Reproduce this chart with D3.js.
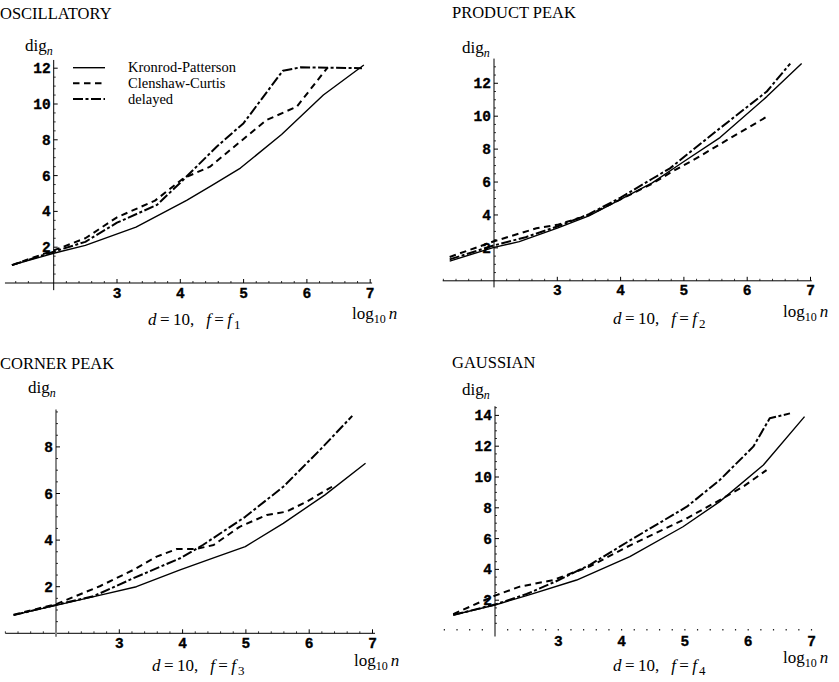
<!DOCTYPE html>
<html><head><meta charset="utf-8">
<script src="https://cdn.jsdelivr.net/npm/d3@7"></script>
<style>body{margin:0;background:#fff}svg{display:block}</style>
</head><body>
<svg id="c" width="839" height="682"></svg>
<script>
// ---------- data (log10 n, dig_n) ----------
const seriesNames = ["Kronrod-Patterson", "Clenshaw-Curtis", "delayed"];
const panelTitles = ["OSCILLATORY", "PRODUCT PEAK", "CORNER PEAK", "GAUSSIAN"];
const funcSubscripts = ["1", "2", "3", "4"];
const xTickLabels = [3, 4, 5, 6, 7];

const oscYTicks  = [2, 4, 6, 8, 10, 12];
const prodYTicks = [2, 4, 6, 8, 10, 12];
const cornYTicks = [2, 4, 6, 8];
const gaussYTicks = [2, 4, 6, 8, 10, 12, 14];

const oscKronrod  = [[1.34,1.0],[2.0,1.66],[2.5,2.1],[3.3,3.12],[4.1,4.62],[4.5,5.45],[4.95,6.42],[5.6,8.3],[6.26,10.5],[6.9,12.18]];
const oscClenshaw = [[1.34,1.0],[2.0,1.82],[2.5,2.5],[3.0,3.67],[3.6,4.6],[4.05,5.85],[4.47,6.5],[5.36,9.1],[5.84,9.85],[6.33,12.05]];
const oscDelayed  = [[1.34,1.0],[2.0,1.75],[2.5,2.3],[3.0,3.37],[3.63,4.36],[4.0,5.6],[4.57,7.6],[5.0,8.93],[5.62,11.86],[5.9,12.05],[6.87,12.0]];

const prodKronrod  = [[1.3,1.2],[2.0,2.03],[2.4,2.38],[3.0,3.2],[3.5,3.95],[4.0,4.95],[4.5,5.95],[5.0,7.25],[5.57,8.7],[6.31,11.19],[6.86,13.2]];
const prodClenshaw = [[1.3,1.45],[2.0,2.4],[2.67,3.19],[3.0,3.4],[3.5,4.0],[4.0,4.95],[4.5,5.9],[4.8,6.6],[5.2,7.45],[5.57,8.3],[6.31,9.97]];
const prodDelayed  = [[1.3,1.3],[2.0,2.15],[2.5,2.65],[3.0,3.3],[3.5,4.05],[4.0,5.05],[4.5,6.2],[4.78,6.83],[5.04,7.64],[5.57,9.27],[6.31,11.5],[6.68,13.2]];

const cornKronrod  = [[1.33,0.78],[2.0,1.2],[2.7,1.64],[3.27,2.0],[3.96,2.72],[4.5,3.25],[4.99,3.72],[5.59,4.72],[6.25,5.94],[6.89,7.3]];
const cornClenshaw = [[1.33,0.8],[2.0,1.25],[2.7,2.03],[3.22,2.72],[3.59,3.29],[3.91,3.62],[4.22,3.62],[4.49,3.79],[4.9,4.57],[5.33,5.08],[5.64,5.22],[5.96,5.65],[6.36,6.29]];
const cornDelayed  = [[1.33,0.78],[2.0,1.22],[2.6,1.6],[3.22,2.36],[3.96,3.22],[4.32,3.79],[4.99,5.0],[5.59,6.29],[6.17,7.87],[6.68,9.33]];

const gaussKronrod  = [[1.34,1.04],[2.0,1.69],[2.5,2.3],[3.29,3.31],[4.13,4.83],[4.97,6.77],[5.55,8.4],[6.24,10.78],[6.89,13.92]];
const gaussClenshaw = [[1.34,1.1],[2.0,2.3],[2.39,2.88],[2.92,3.31],[3.5,4.2],[4.08,5.45],[5.03,7.32],[5.55,8.5],[5.92,9.37],[6.29,10.45]];
const gaussDelayed  = [[1.34,1.04],[2.0,1.72],[2.5,2.4],[2.95,3.2],[3.5,4.3],[4.18,6.0],[5.03,8.07],[5.55,9.8],[6.08,11.97],[6.34,13.81],[6.66,14.13]];

// ---------- layout ----------
const panels = [
  {data:[oscKronrod,oscClenshaw,oscDelayed], yTicks:oscYTicks,
   x0:53.7, y0:283, ux:63.3, uy:17.9, xLo:1.23, xHi:7.03, yTop:12.46, yBot:-0.4,
   titleX:0, titleY:19, digX:25, digY:51, logX:352, logY:319, capX:148, capY:325,
   yAxisColor:"#000", yAxisW:1, xAxisLine:true, legend:true},
  {data:[prodKronrod,prodClenshaw,prodDelayed], yTicks:prodYTicks,
   x0:494, y0:280.8, ux:63.3, uy:16.46, xLo:1.19, xHi:7.02, yTop:13.5, yBot:-0.4,
   titleX:452, titleY:18, digX:462, digY:53, logX:783, logY:317, capX:613, capY:324,
   yAxisColor:"#000", yAxisW:1, xAxisLine:true, legend:false},
  {data:[cornKronrod,cornClenshaw,cornDelayed], yTicks:cornYTicks,
   x0:56, y0:633.3, ux:63.3, uy:23.3, xLo:1.2, xHi:7.04, yTop:9.6, yBot:-0.15,
   titleX:0, titleY:369, digX:28, digY:393, logX:354, logY:666, capX:152, capY:671,
   yAxisColor:"#888", yAxisW:2, xAxisLine:true, legend:false},
  {data:[gaussKronrod,gaussClenshaw,gaussDelayed], yTicks:gaussYTicks,
   x0:495, y0:631, ux:63.3, uy:15.4, xLo:1.2, xHi:7.02, yTop:14.6, yBot:-0.35,
   titleX:452, titleY:368, digX:462, digY:395, logX:783, logY:663, capX:613, capY:671,
   yAxisColor:"#555", yAxisW:1.5, xAxisLine:false, legend:false}
];

const dashes = [null, "6.5,4.5", "10,2.5,3,2.5"];
const widths = [1.4, 2, 2];
const serif = "'Liberation Serif','Times New Roman',serif";
const mono = "'Liberation Mono','Courier New',monospace";

const svg = d3.select("#c");

panels.forEach((p, i) => {
  const x = d3.scaleLinear().domain([2, 7]).range([p.x0, p.x0 + 5 * p.ux]);
  const y = d3.scaleLinear().domain([0, 10]).range([p.y0, p.y0 - 10 * p.uy]);
  const g = svg.append("g");

  // title
  g.append("text").attr("x", p.titleX).attr("y", p.titleY)
    .attr("font-family", serif).attr("font-size", 16.5).text(panelTitles[i]);

  // x axis
  const xMinor = d3.range(Math.ceil(p.xLo * 5) / 5, p.xHi, 0.2).map(v => Math.round(v * 10) / 10);
  if (p.xAxisLine) {
    g.append("line").attr("x1", x(p.xLo)).attr("x2", x(p.xHi))
      .attr("y1", y(0)).attr("y2", y(0)).attr("stroke", "#000").attr("stroke-width", 1);
    g.selectAll(null).data(xMinor.filter(v => Math.abs(v - Math.round(v)) > 0.01 && Math.abs(v - 2) > 0.01))
      .enter().append("line")
      .attr("x1", d => x(d)).attr("x2", d => x(d))
      .attr("y1", y(0)).attr("y2", y(0) - 2).attr("stroke", "#000").attr("stroke-width", 0.8);
    g.selectAll(null).data(xTickLabels).enter().append("line")
      .attr("x1", d => x(d)).attr("x2", d => x(d))
      .attr("y1", y(0)).attr("y2", y(0) - 4).attr("stroke", "#000").attr("stroke-width", 1);
  } else {
    g.selectAll(null).data(xMinor.filter(v => Math.abs(v - 2) > 0.01)).enter().append("rect")
      .attr("x", d => x(d) - 0.6).attr("y", y(0) - 2).attr("width", 1.2).attr("height", 1.5)
      .attr("fill", "#222");
  }
  g.selectAll(null).data(xTickLabels).enter().append("text")
    .attr("x", d => x(d)).attr("y", y(0) + 14.5).attr("text-anchor", "middle")
    .attr("font-family", mono).attr("font-weight", "bold").attr("font-size", 14.5)
    .attr("stroke", "#000").attr("stroke-width", 0.35)
    .text(d => d);

  // y axis
  g.append("line").attr("x1", x(2)).attr("x2", x(2))
    .attr("y1", y(p.yBot)).attr("y2", y(p.yTop))
    .attr("stroke", p.yAxisColor).attr("stroke-width", p.yAxisW);
  const yMinor = d3.range(0.5, p.yTop, 0.5).filter(v => v % 2 !== 0);
  g.selectAll(null).data(yMinor).enter().append("line")
    .attr("x1", x(2)).attr("x2", x(2) + 2).attr("y1", d => y(d)).attr("y2", d => y(d))
    .attr("stroke", "#000").attr("stroke-width", 0.8);
  g.selectAll(null).data(p.yTicks).enter().append("line")
    .attr("x1", x(2)).attr("x2", x(2) + 4).attr("y1", d => y(d)).attr("y2", d => y(d))
    .attr("stroke", "#000").attr("stroke-width", 1);
  g.selectAll(null).data(p.yTicks).enter().append("text")
    .attr("x", x(2) - 3).attr("y", d => y(d)).attr("dy", "0.35em").attr("text-anchor", "end")
    .attr("font-family", mono).attr("font-weight", "bold").attr("font-size", 14.5)
    .attr("stroke", "#000").attr("stroke-width", 0.35)
    .text(d => d);

  // dig_n label
  const dig = g.append("text").attr("x", p.digX).attr("y", p.digY)
    .attr("font-family", serif).attr("font-size", 17);
  dig.append("tspan").text("dig");
  dig.append("tspan").attr("font-style", "italic").attr("font-size", 12).attr("dy", 4).text("n");

  // log10 n label
  const lg = g.append("text").attr("x", p.logX).attr("y", p.logY)
    .attr("font-family", serif).attr("font-size", 17);
  lg.append("tspan").text("log");
  lg.append("tspan").attr("font-size", 12).attr("dy", 4).text("10");
  lg.append("tspan").attr("font-style", "italic").attr("dy", -4).attr("dx", 3).text("n");

  // caption
  const cap = g.append("text").attr("x", p.capX).attr("y", p.capY)
    .attr("font-family", serif).attr("font-size", 17).attr("xml:space", "preserve");
  cap.append("tspan").attr("font-style", "italic").text("d");
  cap.append("tspan").text("\u2009=\u200910,");
  cap.append("tspan").attr("dx", 12).attr("font-style", "italic").text("f");
  cap.append("tspan").text("\u2009=\u2009");
  cap.append("tspan").attr("font-style", "italic").text("f");
  cap.append("tspan").attr("font-size", 13).attr("dy", 4).attr("dx", 2).text(funcSubscripts[i]);

  // curves
  const line = d3.line().x(d => x(d[0])).y(d => y(d[1]));
  p.data.forEach((s, k) => {
    g.append("path").datum(s).attr("d", line)
      .attr("fill", "none").attr("stroke", "#000")
      .attr("stroke-width", widths[k])
      .attr("stroke-dasharray", dashes[k])
      .attr("stroke-linejoin", "round");
  });

  // legend
  if (p.legend) {
    const ly = [67.7, 83.3, 99];
    seriesNames.forEach((name, k) => {
      g.append("line").attr("x1", 73).attr("x2", 105).attr("y1", ly[k]).attr("y2", ly[k])
        .attr("stroke", "#000").attr("stroke-width", k === 0 ? 1.4 : 2)
        .attr("stroke-dasharray", dashes[k]);
      g.append("text").attr("x", 128).attr("y", ly[k] + 4.5)
        .attr("font-family", serif).attr("font-size", 14.5).text(name);
    });
  }
});
</script>
</body></html>
